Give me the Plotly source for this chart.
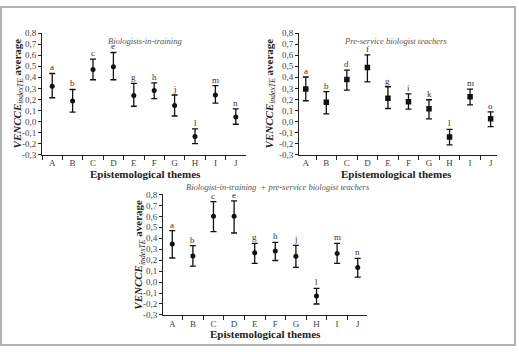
import plotly.graph_objects as go

themes = ["A", "B", "C", "D", "E", "F", "G", "H", "I", "J"]

bio_mean = [0.32, 0.185, 0.47, 0.495, 0.235, 0.28, 0.145, -0.135, 0.24, 0.04]
bio_upper = [0.435, 0.29, 0.565, 0.625, 0.345, 0.35, 0.24, -0.067, 0.325, 0.115]
bio_lower = [0.215, 0.085, 0.378, 0.378, 0.138, 0.208, 0.05, -0.2, 0.167, -0.025]
bio_letters = ["a", "b", "c", "e", "g", "h", "j", "l", "m", "n"]

pre_mean = [0.295, 0.175, 0.38, 0.49, 0.21, 0.18, 0.115, -0.14, 0.225, 0.025]
pre_upper = [0.403, 0.27, 0.465, 0.603, 0.315, 0.25, 0.197, -0.071, 0.294, 0.088]
pre_lower = [0.188, 0.07, 0.285, 0.359, 0.118, 0.112, 0.024, -0.212, 0.15, -0.047]
pre_letters = ["a", "b", "d", "f", "g", "i", "k", "l", "m", "o"]

all_mean = [0.348, 0.238, 0.602, 0.602, 0.268, 0.283, 0.235, -0.126, 0.262, 0.132]
all_upper = [0.469, 0.333, 0.735, 0.741, 0.354, 0.362, 0.336, -0.058, 0.354, 0.217]
all_lower = [0.22, 0.146, 0.46, 0.448, 0.17, 0.197, 0.135, -0.2, 0.17, 0.046]
all_letters = ["a", "b", "c", "e", "g", "h", "j", "l", "m", "n"]

y_ticks = [-0.3, -0.2, -0.1, 0.0, 0.1, 0.2, 0.3, 0.4, 0.5, 0.6, 0.7, 0.8]
y_ticktext = [f"{v:.1f}".replace(".", ",") for v in y_ticks]

subtitles = ["Biologists-in-training", "Pre-service biologist teachers",
             "Biologist-in-training  + pre-service biologist teachers"]

W, H = 519, 352
SERIF = "Liberation Serif"

def px(x):
    return x / W

def py(y):
    return 1 - y / H

fig = go.Figure()

panels = [
    dict(mean=bio_mean, up=bio_upper, lo=bio_lower, let=bio_letters, sym="circle", size=5,
         xd=[px(42), px(246)], yd=[py(154), py(29)], xr=[-0.5, 9.5],
         sub=(145, 37), xt=(145, 174), yt=(18, 91)),
    dict(mean=pre_mean, up=pre_upper, lo=pre_lower, let=pre_letters, sym="square", size=5.5,
         xd=[px(299), px(497)], yd=[py(154), py(29)], xr=[-0.33, 9.31],
         sub=(395, 37), xt=(396, 174), yt=(270, 91)),
    dict(mean=all_mean, up=all_upper, lo=all_lower, let=all_letters, sym="circle", size=5,
         xd=[px(163), px(367)], yd=[py(319), py(195)], xr=[-0.45, 9.45],
         sub=(278, 187), xt=(265, 339), yt=(139, 257)),
]

annotations = []
for i, p in enumerate(panels):
    n = "" if i == 0 else str(i + 1)
    xa, ya = "x" + n, "y" + n
    fig.add_trace(go.Scatter(
        x=themes, y=p["mean"], mode="markers", xaxis=xa, yaxis=ya,
        marker=dict(symbol=p["sym"], size=p["size"], color="#111111"),
        error_y=dict(type="data", symmetric=False,
                     array=[u - m for u, m in zip(p["up"], p["mean"])],
                     arrayminus=[m - l for m, l in zip(p["mean"], p["lo"])],
                     color="#111111", thickness=1.3, width=3),
        showlegend=False, hoverinfo="skip"))
    axis_common = dict(showline=True, linecolor="#222222", linewidth=1, showgrid=False,
                       zeroline=False, ticks="outside", tickcolor="#222222",
                       tickfont=dict(family=SERIF, size=9, color="#444444"))
    fig.layout["xaxis" + n] = dict(axis_common, domain=p["xd"], anchor=ya, type="category",
                                   range=p["xr"], tickson="boundaries", ticklen=4,
                                   categoryorder="array", categoryarray=themes)
    fig.layout["yaxis" + n] = dict(axis_common, domain=p["yd"], anchor=xa, range=[-0.3, 0.8],
                                   tickvals=y_ticks, ticktext=y_ticktext, ticklen=3)
    for t, u, l in zip(themes, p["up"], p["let"]):
        annotations.append(dict(x=t, y=u, xref=xa, yref=ya, text=l, showarrow=False,
                                yanchor="bottom", yshift=-1,
                                font=dict(family=SERIF, size=9, color="#333333")))
    annotations.append(dict(x=px(p["sub"][0]), y=py(p["sub"][1]), xref="paper", yref="paper",
                            text="<i>" + subtitles[i] + "</i>", showarrow=False,
                            xanchor="center", yanchor="middle",
                            font=dict(family=SERIF, size=8.5, color="#555555")))
    annotations.append(dict(x=px(p["xt"][0]), y=py(p["xt"][1]), xref="paper", yref="paper",
                            text="<b>Epistemological themes</b>", showarrow=False,
                            xanchor="center", yanchor="middle",
                            font=dict(family=SERIF, size=11, color="#222222")))
    annotations.append(dict(x=px(p["yt"][0]), y=py(p["yt"][1]), xref="paper", yref="paper",
                            text="<b><i>VENCCE</i></b><sub><i>indexTE</i></sub><b> average</b>",
                            showarrow=False, textangle=-90,
                            xanchor="center", yanchor="middle",
                            font=dict(family=SERIF, size=11, color="#222222")))

fig.update_layout(
    width=W, height=H, margin=dict(l=0, r=0, t=0, b=0),
    paper_bgcolor="white", plot_bgcolor="white",
    annotations=annotations,
    shapes=[dict(type="rect", xref="paper", yref="paper",
                 x0=px(1), x1=px(515), y0=py(350), y1=py(2),
                 line=dict(color="#9a9a9a", width=1.5))],
)

fig.write_html("out.html")
